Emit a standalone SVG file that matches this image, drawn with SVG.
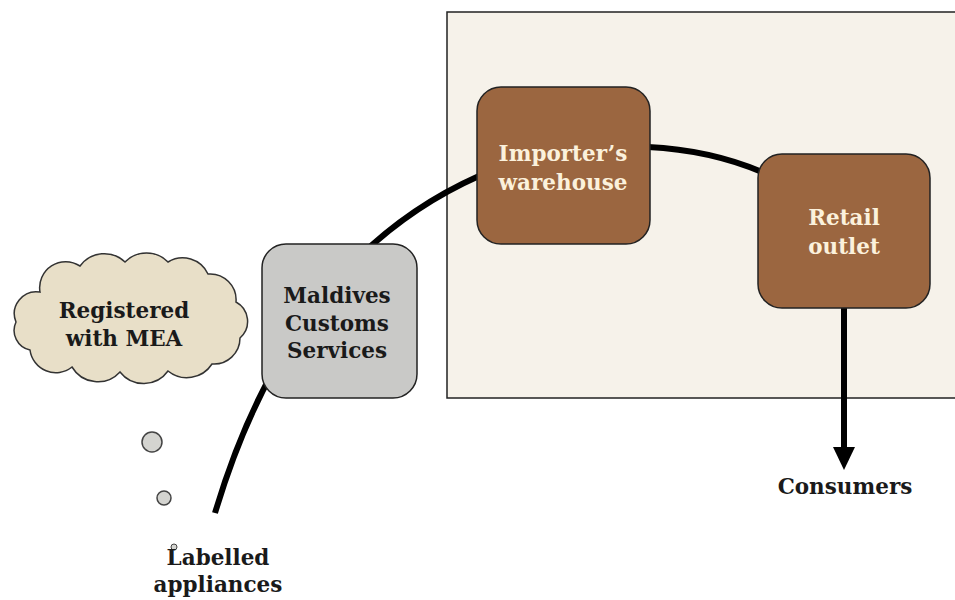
<svg xmlns="http://www.w3.org/2000/svg" width="955" height="600" viewBox="0 0 955 600">
<style>
.t{font-family:"DejaVu Serif","Liberation Serif",serif;font-weight:bold;font-size:21.5px;text-anchor:middle}
.dk{fill:#1a1a1a}
.lt{fill:#fbf1dc}
.brown{fill:#9b6640;stroke:#222;stroke-width:1.5}
.conn{fill:none;stroke:#000;stroke-width:6;stroke-linecap:butt}
</style>
<rect width="955" height="600" fill="#ffffff"/>
<g id="panel">
<rect x="447" y="12" width="520" height="386" fill="#f6f2ea" stroke="#222" stroke-width="1.5"/>
</g>
<g id="connectors">
<path class="conn" d="M215,513 Q290,260 479,176"/>
<path class="conn" d="M648,147 Q710,150 762,172"/>
<path class="conn" d="M844,307 L844,450"/>
<polygon points="833,447 855,447 844,470" fill="#000"/>
</g>
<g id="cloud">
<path d="M40,292 A26,26 0 0 1 80,266 A30,30 0 0 1 125,262 A30,30 0 0 1 168,262 A28,28 0 0 1 208,274 A26,26 0 0 1 236,302 A22,22 0 0 1 240,338 A26,26 0 0 1 212,364 A30,30 0 0 1 168,371 A30,30 0 0 1 120,372 A30,30 0 0 1 72,367 A26,26 0 0 1 30,350 A20,20 0 0 1 16,322 A22,22 0 0 1 40,292 Z" fill="#e8dfc8" stroke="#333" stroke-width="1.5"/>
<text class="t dk" x="124" y="318">Registered</text>
<text class="t dk" x="124" y="346">with MEA</text>
</g>
<g id="bubbles">
<circle cx="152" cy="442" r="10" fill="#d4d4d0" stroke="#444" stroke-width="1.5"/>
<circle cx="164" cy="498" r="7" fill="#d4d4d0" stroke="#444" stroke-width="1.5"/>
<circle cx="174" cy="547" r="3" fill="#d4d4d0" stroke="#444" stroke-width="1"/>
</g>
<g id="customs">
<rect x="262" y="244" width="155" height="154" rx="24" fill="#c9c9c7" stroke="#222" stroke-width="1.5"/>
<text class="t dk" x="337" y="303">Maldives</text>
<text class="t dk" x="337" y="331">Customs</text>
<text class="t dk" x="337" y="358">Services</text>
</g>
<g id="warehouse">
<rect class="brown" x="477" y="87" width="173" height="157" rx="24"/>
<text class="t lt" x="563" y="161">Importer’s</text>
<text class="t lt" x="563" y="190">warehouse</text>
</g>
<g id="retail">
<rect class="brown" x="758" y="154" width="172" height="154" rx="24"/>
<text class="t lt" x="844" y="225">Retail</text>
<text class="t lt" x="844" y="254">outlet</text>
</g>
<g id="consumers">
<text class="t dk" x="845" y="494">Consumers</text>
</g>
<g id="labelled">
<text class="t dk" x="218" y="565">Labelled</text>
<text class="t dk" x="218" y="592">appliances</text>
</g>
</svg>
